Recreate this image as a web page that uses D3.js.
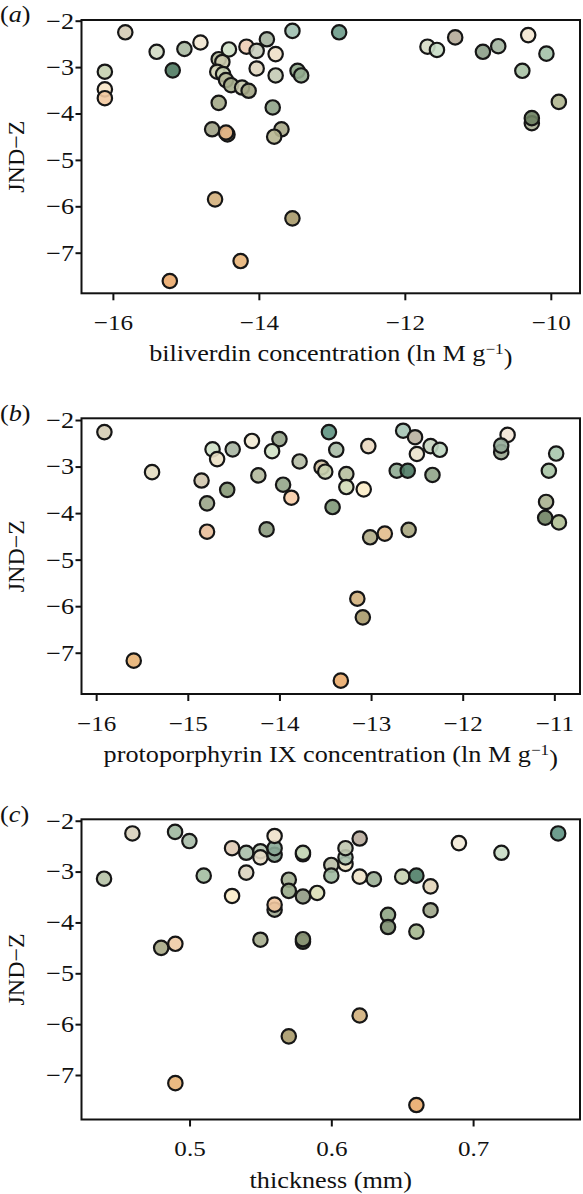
<!DOCTYPE html>
<html><head><meta charset="utf-8">
<script src="https://cdn.jsdelivr.net/npm/d3@7"></script>
<style>
body{margin:0;background:#fff;}
text{font-family:"Liberation Serif","Times New Roman",serif;fill:#111;}
</style></head>
<body><svg id="chart" width="583" height="1194"></svg>
<script>
// ---------- data ----------
const yTicks = [-2,-3,-4,-5,-6,-7];
const xTicksA = [-16,-14,-12,-10];
const xTicksB = [-16,-15,-14,-13,-12,-11];
const xTicksC = [0.5,0.6,0.7];

// panel (a): biliverdin concentration
const biliX = [-15.83,-16.11,-16.11,-16.11,-15.40,-15.18,-15.02,-14.80,-14.55,-14.50,-14.57,-14.49,-14.41,-14.45,-14.38,-14.23,-14.14,-14.17,-14.03,-13.89,-13.77,-14.03,-13.77,-14.55,-13.81,-14.64,-14.43,-14.45,-13.69,-13.79,-13.54,-12.90,-13.47,-13.42,-11.69,-11.56,-11.31,-10.93,-10.72,-10.31,-10.06,-10.39,-9.89,-10.26,-10.26,-14.60,-13.54,-14.25,-15.22];
const biliY = [-2.25,-3.10,-3.48,-3.67,-2.67,-3.07,-2.61,-2.47,-2.83,-2.89,-3.10,-3.15,-2.62,-3.28,-3.39,-3.44,-3.51,-2.56,-2.65,-2.40,-2.72,-3.03,-3.18,-3.77,-3.87,-4.34,-4.45,-4.41,-4.34,-4.50,-2.22,-2.25,-3.08,-3.18,-2.56,-2.63,-2.36,-2.67,-2.55,-2.31,-2.71,-3.08,-3.75,-4.21,-4.10,-5.85,-6.26,-7.18,-7.61];
const biliCol = ["#d4cbb5","#c5d0b0","#f8e6c6","#f3c9a0","#d3dac4","#4f7a62","#aab9a2","#f1e6d0","#b8bea0","#c9c9ab","#d1d3b5","#c8d1b0","#cfe0c6","#b5b898","#a5ad8c","#c5c6a8","#a3a585","#eecdb5","#c6ccbc","#a5b3a0","#eee0c8","#e0d6c0","#c4cbb5","#a4aa88","#8fa388","#a0a286","#7d8466","#e9b888","#a8a888","#b7b690","#9fbfb0","#6e9c8b","#8fa88a","#94ad8f","#d7dbc5","#c8dbc5","#b4aa98","#8c9f88","#a3b5a0","#f4e7d2","#a3c2a8","#a9c2a5","#b0b690","#aab095","#6c8060","#d4b07c","#a89a6a","#e8b478","#eaa96a"];

// panel (b): protoporphyrin IX concentration
const protoX = [-15.91,-15.39,-14.85,-14.79,-14.79,-14.73,-14.68,-14.51,-14.57,-14.30,-14.00,-14.08,-14.23,-13.96,-13.87,-14.14,-13.78,-13.46,-13.38,-13.54,-13.50,-13.27,-13.27,-13.08,-13.42,-13.03,-13.01,-12.85,-12.59,-12.65,-12.52,-12.72,-12.60,-12.50,-12.35,-12.25,-12.33,-11.51,-11.58,-11.58,-10.98,-11.06,-11.09,-11.10,-10.95,-13.15,-13.09,-15.59,-13.33];
const protoY = [-2.26,-3.12,-3.30,-3.79,-4.40,-2.63,-2.84,-2.63,-3.50,-2.45,-2.41,-2.67,-3.19,-3.39,-3.67,-4.35,-2.89,-2.26,-2.64,-3.02,-3.11,-3.16,-3.44,-3.49,-3.87,-2.56,-4.52,-4.44,-4.36,-2.23,-2.37,-3.09,-3.09,-2.73,-2.56,-2.64,-3.18,-2.32,-2.69,-2.55,-2.72,-3.09,-3.76,-4.10,-4.20,-5.84,-6.24,-7.17,-7.60];
const protoCol = ["#d5cdb5","#e3dcc0","#d0c5ad","#9ba589","#e8be9a","#cfe0c6","#ebe0c5","#a7b5a2","#879977","#f1e9d3","#95a38a","#d1e2c7","#b3b89c","#93a589","#f7cda8","#8b9a7e","#b5bda5","#5f9482","#a8bba6","#d1c2a2","#c8d0ae","#b7bf9f","#d3dcb8","#fbecc8","#7f9878","#ead8c0","#b2ad88","#e2bc8c","#a8a680","#a5c4b5","#b9b0a0","#8fab92","#4f7b65","#ebe3cd","#c7d4c0","#bed6c0","#90a488","#f3e6d6","#97a48e","#94ab98","#a7c6ad","#a9c4a5","#a9b08f","#6f8262","#b0bf94","#d2b07c","#a89a6c","#e8b274","#eaab6c"];

// panel (c): thickness
const thickX = [0.4397,0.4597,0.4898,0.4999,0.510,0.530,0.530,0.540,0.540,0.550,0.550,0.560,0.560,0.560,0.560,0.560,0.570,0.570,0.580,0.580,0.580,0.590,0.600,0.600,0.610,0.610,0.610,0.620,0.620,0.630,0.650,0.660,0.670,0.670,0.640,0.640,0.660,0.690,0.720,0.760,0.480,0.490,0.550,0.580,0.580,0.620,0.570,0.490,0.660];
const thickY = [-3.14,-2.25,-2.22,-2.40,-3.08,-2.54,-3.48,-2.63,-3.02,-2.60,-2.72,-2.67,-2.54,-2.30,-3.75,-3.65,-3.16,-3.38,-2.66,-2.63,-3.49,-3.42,-2.87,-3.08,-2.85,-2.72,-2.54,-2.35,-3.10,-3.15,-3.10,-3.08,-3.29,-3.76,-3.85,-4.09,-4.18,-2.44,-2.63,-2.25,-4.50,-4.42,-4.34,-4.38,-4.33,-5.83,-6.24,-7.16,-7.59];
const thickCol = ["#b6c2a6","#d8d0bb","#a0b8a0","#a9bca8","#a3bca1","#e0cbb5","#fbecc8","#a9bea8","#dad3bf","#b5c4b0","#e6dcc5","#7f9c8a","#88a896","#f0e2cb","#a0a890","#f2c8a0","#a4b093","#97a888","#6f8070","#cfe0c0","#909a84","#dde0b8","#b8bca6","#9fb9a0","#ede3c5","#a8c0ad","#c0c8b0","#b8ab9c","#ede2c8","#9aae95","#c6d2b0","#4f7e68","#e2d4b8","#9ea68a","#8fa584","#7b8c6e","#a5b78f","#f2ead8","#c9dcc5","#5e9282","#a7a886","#f0cba5","#a6ad8e","#3f4f38","#8f9a7a","#d2b07c","#a89a6a","#e8b274","#eaab6c"];

// ---------- layout ----------
const panels = [
  {label:"a", xs:biliX, ys:biliY, cs:biliCol, xt:xTicksA, xd:[-16.43,-9.60], yd:[-7.875,-1.985], top:20, bottom:293.3, fmt:d3.format("d"),
   title:["biliverdin concentration (ln M g","−1",")"], titleY:361},
  {label:"b", xs:protoX, ys:protoY, cs:protoCol, xt:xTicksB, xd:[-16.16,-10.72], yd:[-7.887,-1.963], top:418.3, bottom:694, fmt:d3.format("d"),
   title:["protoporphyrin IX concentration (ln M g","−1",")"], titleY:762},
  {label:"c", xs:thickX, ys:thickY, cs:thickCol, xt:xTicksC, xd:[0.4238,0.7754], yd:[-7.875,-1.972], top:819.3, bottom:1119.5, fmt:d3.format(".1f"),
   title:["thickness (mm)"], titleY:1188}
];
const left = 81.5, right = 580;
const sx = 1.14; // horizontal stretch of the reference lettering
const svg = d3.select("#chart");

panels.forEach(p => {
  const x = d3.scaleLinear().domain(p.xd).range([left, right]);
  const y = d3.scaleLinear().domain(p.yd).range([p.bottom, p.top]);
  const g = svg.append("g");

  // y axis
  const ya = g.append("g").attr("transform", `translate(${left},0)`)
    .call(d3.axisLeft(y).tickValues(yTicks).tickSize(6).tickPadding(1.5).tickFormat(d3.format("d")));
  ya.select(".domain").remove();
  ya.selectAll(".tick text").style("font-size","23px")
    .attr("x", -7.5/sx).attr("transform", `scale(${sx},1)`);
  // x axis
  const xa = g.append("g").attr("transform", `translate(0,${p.bottom})`)
    .call(d3.axisBottom(x).tickValues(p.xt).tickSize(7).tickPadding(14).tickFormat(p.fmt));
  xa.select(".domain").remove();
  xa.selectAll(".tick text").style("font-size","22px").attr("transform", `scale(${sx},1)`);
  g.selectAll(".tick line").attr("stroke","#111").attr("stroke-width",2);
  g.selectAll(".tick text").style("font-family",'"Liberation Serif",serif').attr("fill","#111");

  // frame
  g.append("rect").attr("x",left).attr("y",p.top).attr("width",right-left).attr("height",p.bottom-p.top)
    .attr("fill","none").attr("stroke","#111").attr("stroke-width",2);

  // points
  const pts = p.xs.map((v,i)=>({x:v, y:p.ys[i], c:p.cs[i]}));
  g.append("g").selectAll("circle").data(pts).join("circle")
    .attr("cx", d=>x(d.x)).attr("cy", d=>y(d.y)).attr("r", 7.2)
    .attr("fill", d=>d.c).attr("fill-opacity",0.9)
    .attr("stroke","#161616").attr("stroke-width",2.2);

  // x title
  const t = g.append("text").attr("transform",`translate(${(left+right)/2},${p.titleY}) scale(${sx},1)`)
    .attr("text-anchor","middle").style("font-size","23px");
  t.append("tspan").text(p.title[0]);
  if (p.title.length>1){
    t.append("tspan").attr("dy","-0.45em").style("font-size","15px").text(p.title[1]);
    t.append("tspan").attr("dy","0.45em").text(p.title[2]);
  }
  // y title
  svg.append("text").attr("transform",`translate(24,${(p.top+p.bottom)/2}) rotate(-90)`)
    .attr("text-anchor","middle").style("font-size","24px").text("JND−Z");
  // panel label
  const pl = svg.append("text").attr("transform",`translate(0,${y(-2)+1}) scale(${sx},1)`).style("font-size","23px");
  pl.append("tspan").text("(");
  pl.append("tspan").style("font-style","italic").text(p.label);
  pl.append("tspan").text(")");
});
</script></body></html>
